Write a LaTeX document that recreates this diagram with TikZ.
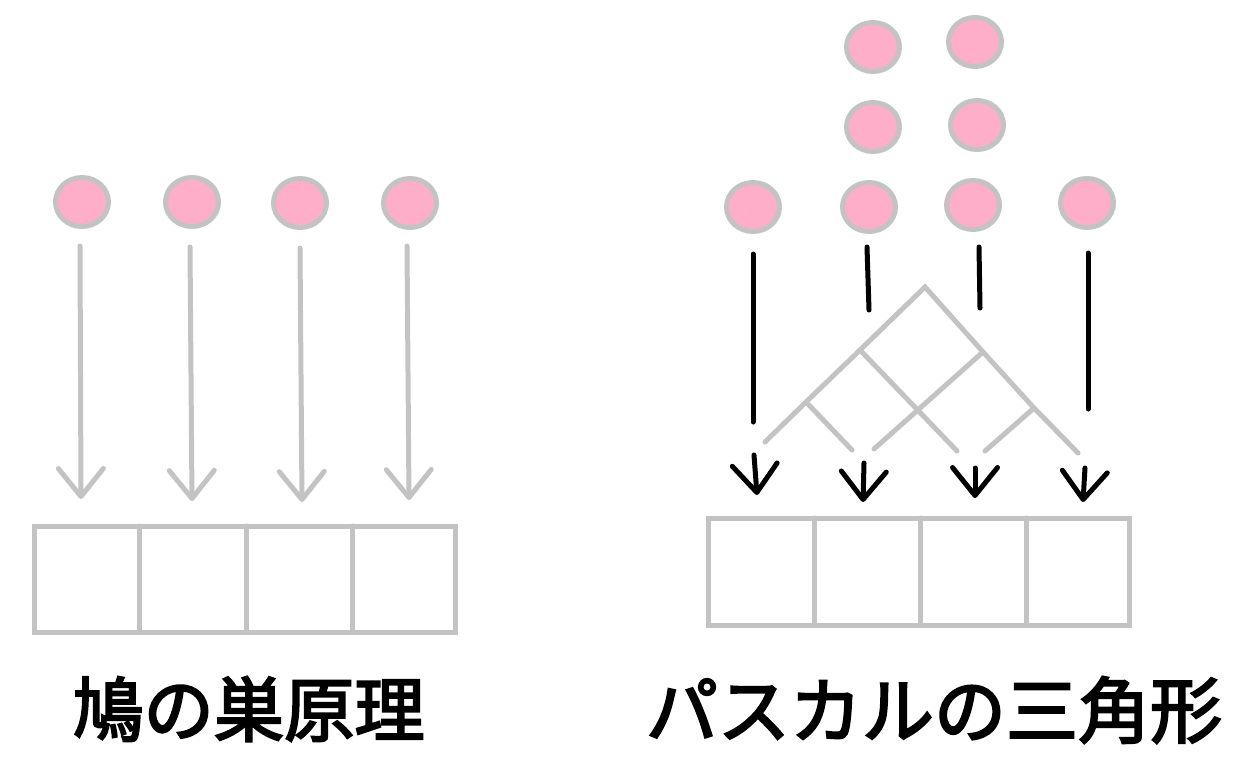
\documentclass[tikz,border=0pt]{standalone}
\usepackage{fontspec}
\newfontfamily\cjk[FakeBold=3]{Noto Sans CJK JP}
\usetikzlibrary{shapes.geometric,arrows.meta}
\definecolor{lgray}{HTML}{C3C3C3}
\definecolor{lpink}{HTML}{FFAEC9}
\begin{document}
\begin{tikzpicture}[x=0.02cm,y=-0.02cm,
  ball/.style={ellipse,draw=lgray,fill=lpink,line width=0.1cm,minimum width=1.06cm,minimum height=0.98cm,inner sep=0pt},
  gline/.style={draw=lgray,line width=0.1cm,line cap=round},
  bline/.style={draw=black,line width=0.1cm,line cap=round},
  barb/.style={-{Straight Barb[length=0.56cm,width=0.9cm,round]}},
  title/.style={font=\cjk\fontsize{40pt}{40pt}\selectfont,inner sep=0pt}
]
\useasboundingbox (0,0) rectangle (1257,767);

% ---------- left: pigeonhole ----------
\node[ball] (p1) at (82,202) {};
\node[ball] (p2) at (192,202) {};
\node[ball] (p3) at (300,203) {};
\node[ball] (p4) at (410,203) {};

\coordinate (ls1) at (80,246);  \coordinate (lt1) at (81,499);
\coordinate (ls2) at (190,247); \coordinate (lt2) at (192,501);
\coordinate (ls3) at (300,248); \coordinate (lt3) at (302,502);
\coordinate (ls4) at (407,246); \coordinate (lt4) at (409,500);
\foreach \i in {1,2,3,4} \draw[gline,barb] (ls\i) -- (lt\i);

\draw[gline] (34,526) rectangle (455,632);
\foreach \x in {139,246,352} \draw[gline] (\x,526) -- (\x,632);

\node[title] (t1) at (249,709) {鳩の巣原理};

% ---------- right: Pascal ----------
\node[ball] (q1) at (873,47) {};
\node[ball] (q2) at (975,42) {};
\node[ball] (q3) at (873,127) {};
\node[ball] (q4) at (977,125) {};
\node[ball] (q5) at (753,207) {};
\node[ball] (q6) at (869,207) {};
\node[ball] (q7) at (973,205) {};
\node[ball] (q8) at (1087,203) {};

% black guide lines
\coordinate (ra1) at (753,254); \coordinate (rb1) at (753,422);
\coordinate (ra2) at (867,247); \coordinate (rb2) at (869,310);
\coordinate (ra3) at (979,247); \coordinate (rb3) at (980,308);
\coordinate (ra4) at (1088,253); \coordinate (rb4) at (1088,409);
\foreach \i in {1,2,3,4} \draw[bline] (ra\i) -- (rb\i);

\coordinate (rc1) at (754,455);  \coordinate (rd1) at (757,495);
\coordinate (rc2) at (864,463);  \coordinate (rd2) at (863,502);
\coordinate (rc3) at (975,468);  \coordinate (rd3) at (975,498);
\coordinate (rc4) at (1085,468); \coordinate (rd4) at (1083,502);
\foreach \i in {1,2,3,4} \draw[bline,barb] (rc\i) -- (rd\i);

% gray triangle network
\coordinate (apex) at (925,287);
\coordinate (l1) at (860,350);
\coordinate (l2) at (806,402);
\coordinate (le) at (765,442);
\coordinate (r1) at (983,352);
\coordinate (r2) at (1034,408);
\coordinate (re) at (1078,453);
\coordinate (m1) at (957,451);
\coordinate (m2) at (874,449);
\coordinate (m3) at (852,450);
\coordinate (m4) at (985,451);
\draw[gline] (le) -- (l2) -- (l1) -- (apex) -- (r1) -- (r2) -- (re);
\draw[gline] (l1) -- (m1);
\draw[gline] (r1) -- (m2);
\draw[gline] (l2) -- (m3);
\draw[gline] (r2) -- (m4);

\draw[gline] (708,518) rectangle (1129,625);
\foreach \x in {814,920,1026} \draw[gline] (\x,518) -- (\x,625);

\node[title,font=\cjk\fontsize{41pt}{41pt}\selectfont] (t2) at (934,710) {パスカルの三角形};
\end{tikzpicture}
\end{document}
